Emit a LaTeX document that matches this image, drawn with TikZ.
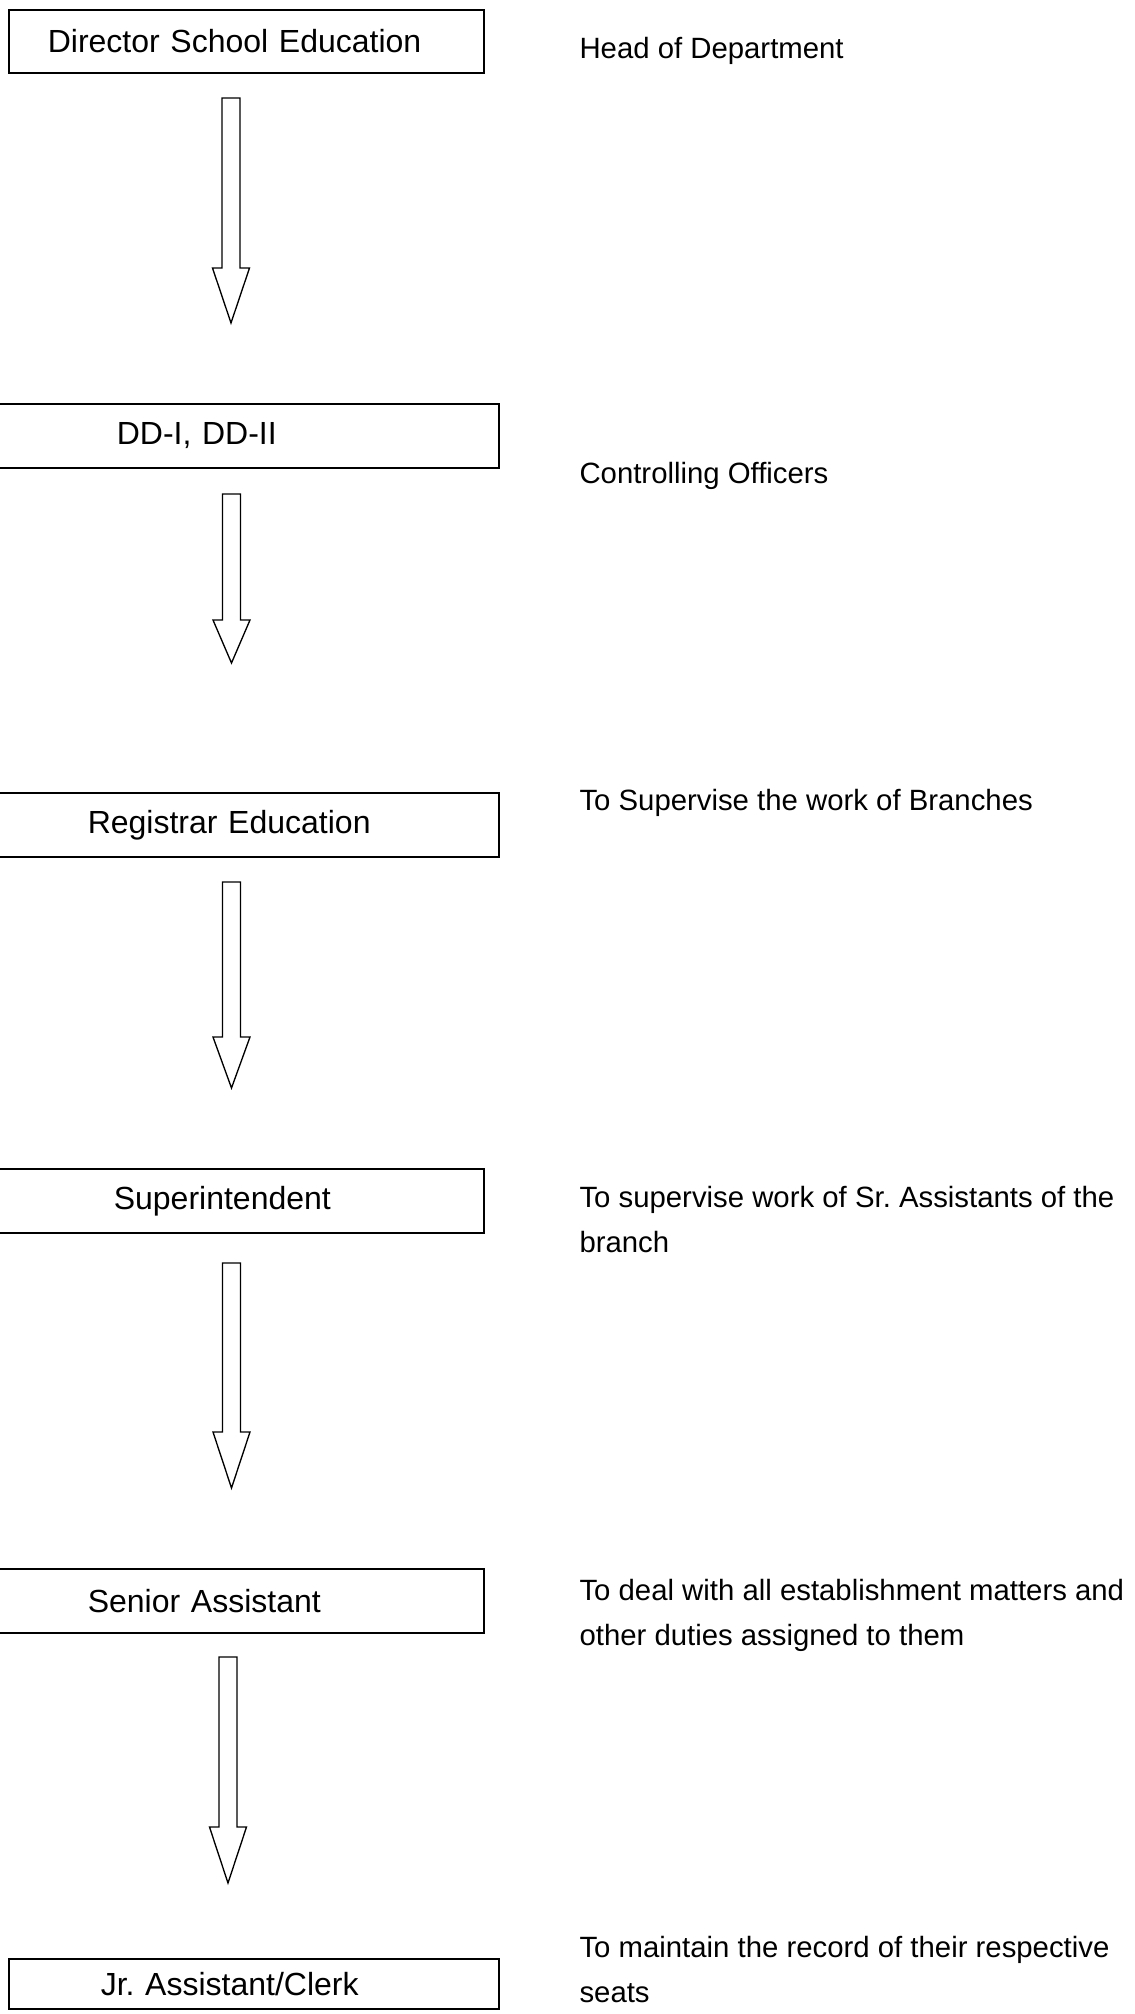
\documentclass[tikz,border=0pt]{standalone}
\usepackage{fontspec}
\setmainfont{Liberation Sans}
\frenchspacing

% hollow down arrow: x, top, neck, tip (in px units of the picture)
\newcommand{\downblock}[4]{%
  \draw[blockarrow] (#1-9,#2) -- (#1+9,#2) -- (#1+9,#3) -- (#1+18.5,#3)
    -- (#1,#4) -- (#1-18.5,#3) -- (#1-9,#3) -- cycle;}

\begin{document}
\begin{tikzpicture}[x=0.375pt, y=-0.375pt,
  every node/.style={font=\fontsize{12pt}{14pt}\selectfont},
  post/.style={draw, line width=0.6pt, anchor=north west, align=left, minimum height=24pt, inner ysep=0pt},
  duty/.style={anchor=north west, align=left, inner sep=0pt, font=\fontsize{11pt}{17pt}\selectfont},
  blockarrow/.style={draw, line width=0.5pt, line join=miter}]
\useasboundingbox (0,0) rectangle (1135,2014);

% posts
\node[post, minimum height=23.625pt, inner xsep=14.625pt, text width=148.875pt] (dse) at (8,9) {Director School Education};
\node[post, inner xsep=54.75pt, text width=88.5pt] (dd) at (-30,403) {DD-I, DD-II};
\node[post, inner xsep=43.875pt, text width=110.25pt] (reg) at (-30,792) {Registrar Education};
\node[post, inner xsep=53.625pt, text width=85.125pt] (supdt) at (-30,1168) {Superintendent};
\node[post, inner xsep=43.875pt, text width=104.625pt] (sa) at (-30,1568) {Senior Assistant};
\node[post, minimum height=18.75pt, inner xsep=34.5pt, text width=114.75pt] (ja) at (8,1958) {Jr. Assistant/Clerk};

% duties
\node[duty] (dseduty) at (579,36.5) {Head of Department};
\node[duty] (dduty) at (579,461.5) {Controlling Officers};
\node[duty] (regduty) at (579,788.5) {To Supervise the work of Branches};
\node[duty] (supdtduty) at (579,1185.5) {To supervise work of Sr. Assistants of the\\branch};
\node[duty] (saduty) at (579,1578.5) {To deal with all establishment matters and\\other duties assigned to them};
\node[duty] (jaduty) at (579,1935.5) {To maintain the record of their respective\\seats};

% arrows
\downblock{231}{98}{268}{323}
\downblock{231.5}{494}{620}{663}
\downblock{231.5}{882}{1037}{1088}
\downblock{231.5}{1263}{1432}{1488}
\downblock{228}{1657}{1827}{1883}
\end{tikzpicture}
\end{document}
